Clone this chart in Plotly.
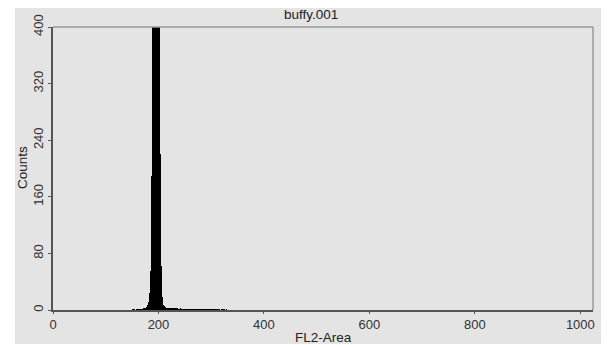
import plotly.graph_objects as go

title_text = "buffy.001"
x_title = "FL2-Area"
y_title = "Counts"
x_ticks = [0, 200, 400, 600, 800, 1000]
y_ticks = [0, 80, 160, 240, 320, 400]

start_channel = 150
counts = [
    0, 0, 1, 0, 0, 1, 0, 0, 1, 0, 1, 0, 0, 1, 1, 0, 1, 1, 0, 1,
    1, 1, 2, 1, 2, 2, 3, 3, 4, 5,
    7, 9, 12, 16, 24, 35, 55, 100, 190, 310,
    400, 450, 500, 540, 580, 600, 590, 560, 520, 470,
    440, 410, 340, 220, 120, 62, 32, 18, 11, 7,
    5, 4, 4, 3, 3, 3, 2, 3, 2, 2,
    2, 3, 2, 2, 1, 2, 2, 1, 2, 1,
    2, 1, 1, 2, 1, 1, 2, 1, 1, 1,
    1, 1, 2, 1, 1, 0, 1, 1, 1, 0,
    1, 1, 0, 1, 1, 1, 0, 1, 0, 1,
    1, 0, 1, 1, 0, 1, 0, 1, 0, 1,
    0, 1, 0, 1, 0, 0, 1, 0, 1, 0,
    1, 0, 0, 1, 0, 1, 0, 0, 1, 0,
    0, 1, 0, 0, 1, 0, 0, 1, 0, 0,
    1, 0, 0, 1, 0, 0, 0, 1, 0, 0,
    0, 1, 0, 0, 0, 1, 0, 0, 0, 0,
    1, 0, 0, 0, 1, 0, 0, 0, 0, 1, 0,
]
channels = list(range(start_channel, start_channel + len(counts)))

W, H = 609, 345
L, R, T, B = 53, 16, 27, 35
pw, ph = W - L - R, H - T - B

def fx(px):
    return (px - L) / pw

def fy(py):
    return (H - B - py) / ph

font = "Liberation Sans, Arial, Helvetica, sans-serif"

fig = go.Figure()
fig.add_trace(go.Bar(
    x=channels, y=counts, width=1,
    marker=dict(color="black", line=dict(width=0)),
    showlegend=False, hoverinfo="skip",
))

fig.update_layout(
    width=W, height=H,
    margin=dict(l=L, r=R, t=T, b=B, pad=0),
    paper_bgcolor="white",
    plot_bgcolor="#e8e8e8",
    bargap=0,
    font=dict(family=font, size=13, color="#222"),
    shapes=[
        dict(type="rect", xref="paper", yref="paper",
             x0=fx(15), x1=fx(601), y0=fy(344), y1=fy(8),
             fillcolor="#e4e4e4", line=dict(width=0), layer="below"),
        dict(type="line", xref="paper", yref="paper",
             x0=0, x1=1, y0=1, y1=1, line=dict(color="#9a9a9a", width=1.5)),
        dict(type="line", xref="paper", yref="paper",
             x0=1, x1=1, y0=0, y1=1, line=dict(color="#9a9a9a", width=1.5)),
    ],
    annotations=[
        dict(text=title_text, xref="paper", yref="paper", x=fx(311), y=fy(15),
             showarrow=False, font=dict(size=13.5, color="#222"), xanchor="center", yanchor="middle"),
        dict(text=x_title, xref="paper", yref="paper", x=fx(323), y=fy(337),
             showarrow=False, font=dict(size=13.5, color="#222"), xanchor="center", yanchor="middle"),
        dict(text=y_title, xref="paper", yref="paper", x=fx(22), y=fy(168),
             showarrow=False, textangle=-90, font=dict(size=13.5, color="#222"),
             xanchor="center", yanchor="middle"),
    ],
)

fig.update_xaxes(
    range=[0, 1024], tickvals=x_ticks, ticktext=[str(v) for v in x_ticks],
    showgrid=False, zeroline=False, showline=True, linecolor="#555", linewidth=1.5,
    ticks="outside", ticklen=2, tickcolor="#555",
    tickfont=dict(size=13, color="#333"),
)
fig.update_yaxes(
    range=[0, 400], tickvals=y_ticks, ticktext=[str(v) for v in y_ticks],
    showgrid=False, zeroline=False, showline=True, linecolor="#555", linewidth=1.5,
    ticks="outside", ticklen=3, tickcolor="#555", tickangle=-90,
    tickfont=dict(size=13, color="#333"),
)

fig.write_html(
    "out.html",
    config={"displayModeBar": False},
    post_script="document.body.style.margin='0';document.body.style.overflow='hidden';",
)
